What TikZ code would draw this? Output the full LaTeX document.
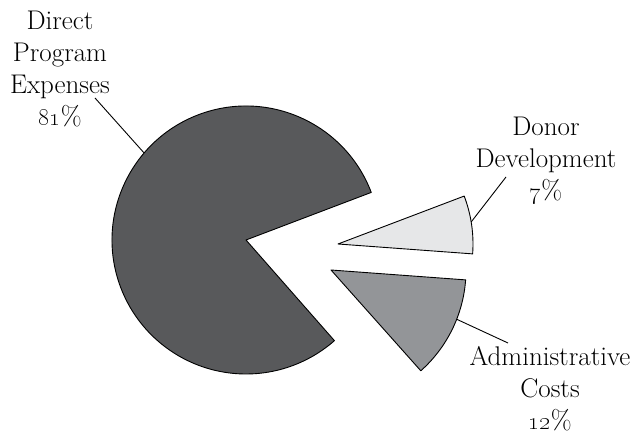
\documentclass[tikz,border=0pt]{standalone}
\usepackage{amsmath}
\usetikzlibrary{calc}
\definecolor{progcol}{HTML}{58595B}
\definecolor{donorcol}{HTML}{E6E7E8}
\definecolor{admincol}{HTML}{939598}
\begin{document}
\begin{tikzpicture}[x=1pt,y=1pt,
        slice/.style={draw=black,line width=0.9pt,line join=round},
        lbl/.style={align=center,inner sep=0pt,anchor=north,font=\fontsize{27}{32}\selectfont},
        leader/.style={black,line width=0.9pt}]
                    \useasboundingbox (0,0) rectangle (636,436);
                    \draw[slice,fill=progcol] (246,196)--++(20.8:134) arc[start angle=20.8,end angle=311.3,radius=134]--cycle;
                    \draw[slice,fill=donorcol] (338,192)--++(-4.2:135) arc[start angle=-4.2,end angle=20.8,radius=135]--cycle;
                    \draw[slice,fill=admincol] (331,166)--++(-48.3:135) arc[start angle=-48.3,end angle=-4.2,radius=135]--cycle;
                    \node[lbl] (progl) at (60,425) {Direct\\Program\\Expenses\\\oldstylenums{81}\%};
                    \node[lbl] (donorl) at (546,319) {Donor\\Development\\\oldstylenums{7}\%};
                    \node[lbl] (adminl) at (550,90) {Administrative\\Costs\\\oldstylenums{12}\%};
                    \coordinate (proga) at ($(246,196)+(139.5:134)$);
                    \coordinate (progb) at (95,338);
                    \coordinate (donora) at ($(338,192)+(9.4:135)$);
                    \coordinate (donorb) at (506,259);
                    \coordinate (admina) at ($(331,166)+(-21.4:135)$);
                    \coordinate (adminb) at (508,93);
                    \draw[leader] (proga)--(progb);
                    \draw[leader] (donora)--(donorb);
                    \draw[leader] (admina)--(adminb);
                \end{tikzpicture}
\end{document}
